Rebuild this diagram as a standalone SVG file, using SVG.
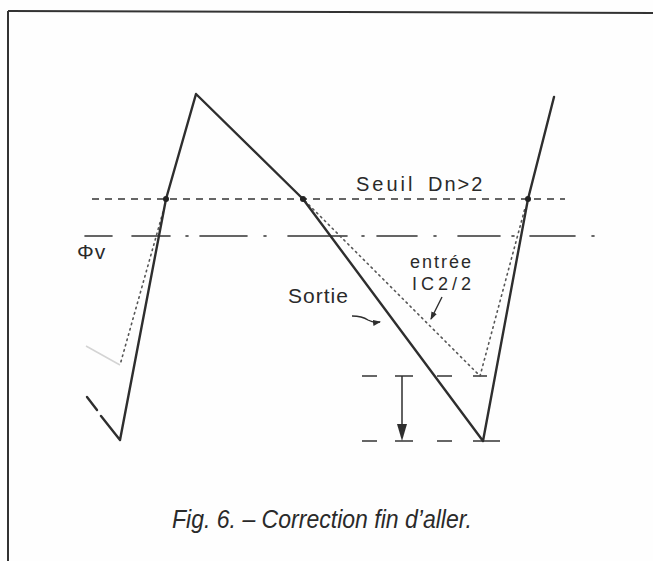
<svg xmlns="http://www.w3.org/2000/svg" width="653" height="561" viewBox="0 0 653 561">
<defs>
<style>
.wave{fill:none;stroke:#2e2e2e;stroke-width:2.4;stroke-linejoin:round;stroke-linecap:round}
.dot{fill:none;stroke:#555;stroke-width:1.6;stroke-dasharray:1.5 4;stroke-linecap:round}
.thr{fill:none;stroke:#333;stroke-width:1.5;stroke-dasharray:7 6}
.dd{fill:none;stroke:#333;stroke-width:1.6;stroke-linecap:round}
.hd{fill:none;stroke:#333;stroke-width:1.5}
.hand{font-family:"Liberation Sans","DejaVu Sans",sans-serif;fill:#2a2a2a;font-weight:normal}
.cap{font-family:"Liberation Sans","DejaVu Sans",sans-serif;font-style:italic;fill:#2a2a2a}
.arr{fill:#2e2e2e}
</style>
<marker id="ah" markerWidth="8" markerHeight="8" refX="7" refY="4" orient="auto" markerUnits="userSpaceOnUse">
<path d="M0,1 L8,4 L0,7 Z" fill="#2e2e2e"/>
</marker>
</defs>
<rect x="0" y="0" width="653" height="561" fill="#fefefe"/>
<g id="frame">
<line x1="8" y1="11" x2="653" y2="13" stroke="#333" stroke-width="2"/>
<line x1="8" y1="11" x2="8" y2="561" stroke="#333" stroke-width="2"/>
</g>
<g id="thresholds">
<line class="thr" x1="92" y1="199" x2="565" y2="199"/>
<g id="phiv-line">
<line class="dd" x1="85" y1="236" x2="112" y2="236"/>
<line class="dd" x1="132" y1="236" x2="170" y2="236"/>
<line class="dd" x1="186" y1="236" x2="188" y2="236"/>
<line class="dd" x1="200" y1="236" x2="247" y2="236"/>
<line class="dd" x1="264" y1="236" x2="266" y2="236"/>
<line class="dd" x1="288" y1="236" x2="347" y2="236"/>
<line class="dd" x1="362" y1="236" x2="364" y2="236"/>
<line class="dd" x1="377" y1="236" x2="417" y2="236"/>
<line class="dd" x1="434" y1="236" x2="436" y2="236"/>
<line class="dd" x1="458" y1="236" x2="500" y2="236"/>
<line class="dd" x1="512" y1="236" x2="514" y2="236"/>
<line class="dd" x1="530" y1="236" x2="575" y2="236"/>
<line class="dd" x1="592" y1="236" x2="594" y2="236"/>
</g>
<g id="levels">
<line class="hd" x1="362" y1="376" x2="377" y2="376"/>
<line class="hd" x1="395" y1="376" x2="413" y2="376"/>
<line class="hd" x1="437" y1="376" x2="452" y2="376"/>
<line class="hd" x1="473" y1="376" x2="487" y2="376"/>
<line class="hd" x1="362" y1="441" x2="377" y2="441"/>
<line class="hd" x1="395" y1="441" x2="413" y2="441"/>
<line class="hd" x1="437" y1="441" x2="452" y2="441"/>
<line class="hd" x1="473" y1="441" x2="500" y2="441"/>
</g>
</g>
<g id="input-dotted">
<line x1="86" y1="346" x2="120" y2="365" stroke="#d4d4d4" stroke-width="1.5"/>
<polyline class="dot" points="163,212 120,365"/>
<polyline class="dot" points="305,201 480,376 525,208"/>
</g>
<g id="output-wave">
<line class="wave" x1="87" y1="397" x2="97" y2="410"/>
<polyline class="wave" points="101,416 120,440 166,199 196,94 303,199 483,441 528,199 554,97"/>
<circle cx="166" cy="199" r="3" fill="#222"/>
<circle cx="303" cy="199" r="3" fill="#222"/>
<circle cx="528" cy="199" r="3" fill="#222"/>
</g>
<g id="connectors">
<line x1="402" y1="376" x2="402" y2="428" stroke="#2e2e2e" stroke-width="1.5"/>
<polygon class="arr" points="397,424 407,424 402,441"/>
<path d="M352,316 Q362,316 368,320 Q373,323 380,322" fill="none" stroke="#2e2e2e" stroke-width="1.4" marker-end="url(#ah)"/>
<path d="M442,297 L431,319" fill="none" stroke="#2e2e2e" stroke-width="1.4" marker-end="url(#ah)"/>
</g>
<g id="labels">
<text class="hand" x="356" y="191" font-size="20" letter-spacing="3">Seuil</text>
<text class="hand" x="428" y="191" font-size="20" letter-spacing="2">Dn&gt;2</text>
<text class="hand" x="77" y="259" font-size="21" letter-spacing="1">Φv</text>
<text class="hand" x="410" y="268" font-size="18" letter-spacing="2">entrée</text>
<text class="hand" x="412" y="290" font-size="18" letter-spacing="4">IC2/2</text>
<text class="hand" x="288" y="303" font-size="21" letter-spacing="1">Sortie</text>
</g>
<g id="caption">
<text class="cap" x="172" y="528" font-size="26" textLength="300" lengthAdjust="spacingAndGlyphs">Fig. 6. – Correction fin d’aller.</text>
</g>
</svg>
